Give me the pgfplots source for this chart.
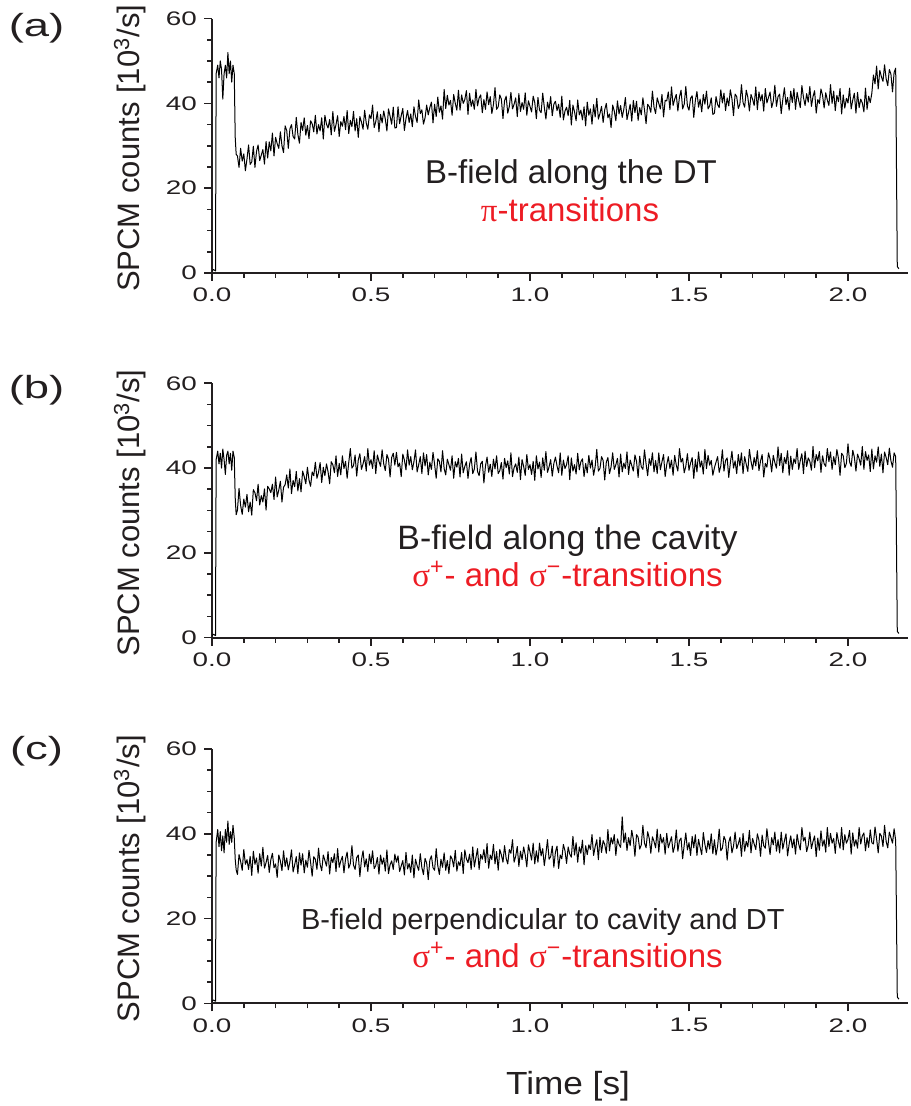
\documentclass[border=0pt]{standalone}
\usepackage{fontspec}
\setmainfont{Liberation Sans}
\newfontfamily\grk{Liberation Serif}
\newfontfamily\tickfont[FakeStretch=1.42]{Liberation Sans}
\newfontfamily\labfont[FakeStretch=1.1]{Liberation Sans}
\usepackage{pgfplots}
\usepackage{pgfplotstable}
\pgfplotsset{compat=1.18}
\definecolor{txt}{RGB}{35,31,32}
\definecolor{redtxt}{RGB}{237,28,36}

\pgfplotstableread{
t v
0 0.5
0.005 0.8
0.011 0.5
0.013 47
0.018 49
0.022 46
0.026 50
0.03 48
0.034 41
0.038 47
0.042 49
0.046 46
0.05 52
0.054 47
0.058 50
0.062 45
0.066 49
0.07 47
0.073 32
0.076 28
0.080 27.6
0.085 24.9
0.090 29.4
0.095 26.4
0.100 28.1
0.105 24.1
0.110 26.9
0.115 30.2
0.120 25.6
0.125 26.2
0.130 29.9
0.135 24.9
0.140 28.7
0.145 30.2
0.150 26.5
0.155 27.8
0.160 29.1
0.165 25.7
0.170 31.0
0.175 27.1
0.180 30.9
0.185 28.8
0.190 33.0
0.195 27.6
0.200 32.0
0.205 30.5
0.210 29.4
0.215 33.3
0.220 30.0
0.225 28.4
0.230 34.7
0.235 33.6
0.240 29.4
0.245 34.0
0.250 35.0
0.255 32.2
0.260 31.6
0.265 36.7
0.270 32.7
0.275 30.6
0.280 35.5
0.285 33.6
0.290 36.6
0.295 32.5
0.300 34.8
0.305 31.7
0.310 35.9
0.315 35.2
0.320 33.3
0.325 37.2
0.330 32.8
0.335 35.0
0.340 33.5
0.345 36.6
0.350 31.6
0.355 37.2
0.360 35.1
0.365 34.2
0.370 36.2
0.375 32.6
0.380 38.1
0.385 33.4
0.390 35.0
0.395 37.1
0.400 32.2
0.405 35.7
0.410 34.6
0.415 36.9
0.420 33.8
0.425 38.3
0.430 32.9
0.435 36.0
0.440 34.5
0.445 38.1
0.450 33.5
0.455 36.4
0.460 32.0
0.465 36.9
0.470 35.6
0.475 33.9
0.480 38.4
0.485 35.4
0.490 33.9
0.495 37.3
0.500 36.4
0.505 39.6
0.510 34.3
0.515 35.7
0.520 38.0
0.525 33.3
0.530 37.4
0.535 35.4
0.540 38.2
0.545 36.3
0.550 33.5
0.555 38.7
0.560 37.0
0.565 35.1
0.570 39.1
0.575 34.2
0.580 34.3
0.585 39.2
0.590 35.2
0.595 37.1
0.600 38.8
0.605 33.6
0.610 36.4
0.615 38.3
0.620 35.5
0.625 37.5
0.630 34.5
0.635 39.2
0.640 36.9
0.645 35.5
0.650 40.8
0.655 37.6
0.660 38.5
0.665 35.1
0.670 36.6
0.675 39.6
0.680 37.3
0.685 39.0
0.690 40.3
0.695 35.4
0.700 39.8
0.705 36.9
0.710 41.5
0.715 37.9
0.720 39.4
0.725 36.3
0.730 43.3
0.735 38.8
0.740 41.9
0.745 39.6
0.750 40.7
0.755 37.2
0.760 42.1
0.765 40.0
0.770 38.4
0.775 43.1
0.780 38.4
0.785 42.0
0.790 40.0
0.795 40.9
0.800 43.0
0.805 37.4
0.810 42.4
0.815 39.3
0.820 40.8
0.825 38.6
0.830 43.3
0.835 39.4
0.840 41.3
0.845 42.0
0.850 37.8
0.855 40.9
0.860 38.6
0.865 42.7
0.870 39.7
0.875 41.6
0.880 37.6
0.885 39.7
0.890 43.7
0.895 38.6
0.900 39.2
0.905 42.0
0.910 41.0
0.915 36.4
0.920 40.6
0.925 41.7
0.930 37.7
0.935 39.3
0.940 42.6
0.945 38.7
0.950 39.8
0.955 41.3
0.960 36.9
0.965 42.3
0.970 38.1
0.975 40.2
0.980 38.6
0.985 42.5
0.990 37.2
0.995 40.6
1.000 39.3
1.005 38.0
1.010 41.7
1.015 40.2
1.020 36.4
1.025 41.4
1.030 38.4
1.035 37.8
1.040 42.4
1.045 39.1
1.050 36.3
1.055 40.3
1.060 38.6
1.065 41.6
1.070 37.1
1.075 39.8
1.080 40.5
1.085 38.3
1.090 39.8
1.095 36.7
1.100 41.7
1.105 36.1
1.110 38.2
1.115 39.1
1.120 37.1
1.125 40.7
1.130 34.9
1.135 39.6
1.140 38.0
1.145 35.9
1.150 40.8
1.155 37.3
1.160 38.4
1.165 36.1
1.170 39.2
1.175 34.7
1.180 40.3
1.185 37.2
1.190 38.7
1.195 35.1
1.200 39.7
1.205 36.8
1.210 41.2
1.215 36.3
1.220 37.6
1.225 39.3
1.230 35.5
1.235 38.5
1.240 40.0
1.245 36.6
1.250 37.5
1.255 34.3
1.260 39.6
1.265 38.2
1.270 35.9
1.275 40.6
1.280 37.5
1.285 39.5
1.290 36.7
1.295 38.6
1.300 41.4
1.305 36.2
1.310 37.9
1.315 39.8
1.320 35.8
1.325 40.7
1.330 37.8
1.335 40.5
1.340 36.0
1.345 39.0
1.350 37.3
1.355 41.3
1.360 38.5
1.365 35.2
1.370 39.8
1.375 39.2
1.380 37.9
1.385 42.9
1.390 39.1
1.395 37.6
1.400 41.3
1.405 40.0
1.410 38.7
1.415 42.1
1.420 36.8
1.425 40.7
1.430 40.6
1.435 42.7
1.440 38.5
1.445 43.9
1.450 39.5
1.455 41.0
1.460 42.1
1.465 38.2
1.470 41.5
1.475 43.1
1.480 38.7
1.485 39.8
1.490 44.0
1.495 39.4
1.500 38.4
1.505 41.2
1.510 41.8
1.515 36.7
1.520 40.7
1.525 42.8
1.530 39.1
1.535 41.0
1.540 38.0
1.545 42.1
1.550 39.8
1.555 42.9
1.560 38.7
1.565 39.4
1.570 41.3
1.575 37.4
1.580 37.7
1.585 41.6
1.590 39.7
1.595 39.0
1.600 43.2
1.605 40.1
1.610 42.4
1.615 38.3
1.620 41.3
1.625 39.4
1.630 43.2
1.635 41.1
1.640 37.1
1.645 42.2
1.650 41.6
1.655 38.8
1.660 39.8
1.665 44.4
1.670 40.2
1.675 39.1
1.680 43.1
1.685 41.5
1.690 38.2
1.695 42.1
1.700 41.0
1.705 39.5
1.710 43.9
1.715 38.5
1.720 42.7
1.725 40.6
1.730 42.1
1.735 38.2
1.740 43.5
1.745 40.1
1.750 41.4
1.755 42.7
1.760 39.0
1.765 40.5
1.770 44.3
1.775 39.3
1.780 41.6
1.785 42.2
1.790 37.6
1.795 40.9
1.800 43.7
1.805 39.7
1.810 41.4
1.815 38.4
1.820 42.9
1.825 40.2
1.830 43.5
1.835 38.6
1.840 42.6
1.845 40.7
1.850 39.0
1.855 44.2
1.860 41.4
1.865 39.5
1.870 42.3
1.875 40.3
1.880 44.0
1.885 39.3
1.890 41.6
1.895 43.0
1.900 37.7
1.905 40.9
1.910 40.0
1.915 43.4
1.920 41.9
1.925 38.9
1.930 42.5
1.935 40.8
1.940 39.5
1.945 44.4
1.950 40.0
1.955 42.9
1.960 38.3
1.965 41.9
1.970 40.4
1.975 43.5
1.980 37.5
1.985 42.0
1.990 38.9
1.995 41.2
2.000 40.1
2.005 43.6
2.010 38.7
2.015 40.8
2.020 42.4
2.025 37.7
2.030 42.6
2.035 39.0
2.040 41.0
2.045 40.1
2.050 38.0
2.055 43.6
2.060 38.6
2.065 41.7
2.070 40.2
2.075 42.4
2.080 46.7
2.085 44.6
2.090 48.8
2.095 43.4
2.100 47.8
2.105 46.3
2.110 45.2
2.115 49.1
2.120 45.8
2.125 44.2
2.130 48.0
2.135 46.9
2.140 42.7
2.145 47.3
2.150 48.3
2.155 1.5
2.160 1.0
}\dataA

\pgfplotstableread{
t v
0 0.5
0.005 0.8
0.011 0.5
0.013 42
0.018 44
0.022 41
0.026 43.5
0.03 40
0.034 44.5
0.038 42
0.042 38.5
0.046 43
0.05 44
0.054 41
0.058 43.5
0.062 39.5
0.066 44
0.07 42.5
0.073 33
0.076 29
0.080 30.1
0.085 35.2
0.090 31.2
0.095 29.1
0.100 32.7
0.105 30.8
0.110 33.8
0.115 29.7
0.120 32.0
0.125 28.9
0.130 34.9
0.135 34.2
0.140 32.3
0.145 36.2
0.150 31.3
0.155 33.5
0.160 32.0
0.165 35.1
0.170 30.1
0.175 35.7
0.180 35.1
0.185 34.2
0.190 36.2
0.195 32.6
0.200 37.9
0.205 33.2
0.210 34.8
0.215 36.9
0.220 32.0
0.225 35.5
0.230 36.1
0.235 38.4
0.240 35.3
0.245 39.8
0.250 34.0
0.255 37.1
0.260 35.6
0.265 39.2
0.270 34.6
0.275 37.5
0.280 34.4
0.285 39.3
0.290 38.0
0.295 36.3
0.300 40.2
0.305 37.2
0.310 35.7
0.315 39.1
0.320 38.2
0.325 41.4
0.330 37.6
0.335 39.0
0.340 41.3
0.345 36.6
0.350 40.2
0.355 38.2
0.360 41.0
0.365 39.1
0.370 36.3
0.375 41.5
0.380 40.8
0.385 38.9
0.390 42.9
0.395 38.0
0.400 41.1
0.405 38.4
0.410 42.9
0.415 39.9
0.420 41.6
0.425 37.6
0.430 41.3
0.435 44.6
0.440 40.0
0.445 40.6
0.450 43.1
0.455 38.1
0.460 41.9
0.465 43.4
0.470 39.7
0.475 41.0
0.480 42.7
0.485 39.3
0.490 44.6
0.495 40.7
0.500 42.0
0.505 39.9
0.510 44.1
0.515 38.7
0.520 43.1
0.525 41.6
0.530 40.4
0.535 44.3
0.540 41.0
0.545 39.4
0.550 43.2
0.555 42.1
0.560 37.9
0.565 42.5
0.570 43.5
0.575 40.7
0.580 43.7
0.585 40.3
0.590 41.2
0.595 38.0
0.600 43.3
0.605 41.9
0.610 39.6
0.615 44.3
0.620 40.7
0.625 42.7
0.630 39.6
0.635 41.5
0.640 44.3
0.645 39.1
0.650 40.8
0.655 42.7
0.660 38.7
0.665 43.6
0.670 40.5
0.675 43.2
0.680 38.4
0.685 41.4
0.690 39.7
0.695 43.7
0.700 40.9
0.705 37.6
0.710 42.2
0.715 41.6
0.720 39.1
0.725 44.1
0.730 39.9
0.735 38.4
0.740 42.1
0.745 40.8
0.750 39.5
0.755 42.9
0.760 37.6
0.765 41.5
0.770 40.2
0.775 42.3
0.780 37.9
0.785 43.3
0.790 38.9
0.795 40.4
0.800 41.5
0.805 37.6
0.810 40.9
0.815 42.5
0.820 38.7
0.825 39.8
0.830 43.8
0.835 39.2
0.840 38.2
0.845 41.0
0.850 41.6
0.855 36.5
0.860 40.5
0.865 42.6
0.870 39.0
0.875 40.9
0.880 38.0
0.885 42.1
0.890 39.8
0.895 42.9
0.900 38.7
0.905 39.4
0.910 41.3
0.915 37.4
0.920 42.3
0.925 40.1
0.930 41.7
0.935 38.6
0.940 43.6
0.945 38.0
0.950 40.1
0.955 41.0
0.960 39.0
0.965 42.6
0.970 37.3
0.975 42.0
0.980 40.4
0.985 38.3
0.990 43.2
0.995 39.7
1.000 40.8
1.005 38.5
1.010 41.6
1.015 37.1
1.020 42.9
1.025 39.8
1.030 41.4
1.035 37.8
1.040 42.4
1.045 39.5
1.050 43.9
1.055 39.0
1.060 40.3
1.065 42.0
1.070 38.1
1.075 41.1
1.080 42.6
1.085 40.5
1.090 38.9
1.095 43.6
1.100 38.3
1.105 41.9
1.110 39.9
1.115 40.8
1.120 42.9
1.125 37.3
1.130 42.4
1.135 39.3
1.140 40.8
1.145 38.6
1.150 43.5
1.155 39.6
1.160 41.5
1.165 42.2
1.170 38.0
1.175 41.1
1.180 38.9
1.185 43.0
1.190 40.0
1.195 41.9
1.200 38.3
1.205 40.4
1.210 44.4
1.215 39.3
1.220 39.9
1.225 42.7
1.230 41.8
1.235 37.2
1.240 41.4
1.245 42.5
1.250 38.7
1.255 40.3
1.260 43.6
1.265 39.7
1.270 40.8
1.275 42.3
1.280 37.9
1.285 43.3
1.290 39.1
1.295 41.2
1.300 39.9
1.305 43.8
1.310 38.5
1.315 41.9
1.320 40.6
1.325 39.3
1.330 43.1
1.335 41.6
1.340 37.8
1.345 42.8
1.350 40.3
1.355 39.7
1.360 44.3
1.365 41.0
1.370 38.2
1.375 42.2
1.380 40.6
1.385 43.6
1.390 39.1
1.395 41.8
1.400 38.7
1.405 43.6
1.410 39.6
1.415 41.5
1.420 43.2
1.425 38.0
1.430 40.8
1.435 42.7
1.440 39.9
1.445 41.9
1.450 38.3
1.455 43.0
1.460 40.7
1.465 39.3
1.470 44.6
1.475 41.4
1.480 42.3
1.485 38.9
1.490 40.4
1.495 43.4
1.500 39.5
1.505 41.2
1.510 42.5
1.515 37.6
1.520 42.0
1.525 39.1
1.530 43.8
1.535 40.2
1.540 41.7
1.545 38.6
1.550 44.4
1.555 39.9
1.560 43.0
1.565 40.7
1.570 41.8
1.575 38.3
1.580 40.1
1.585 41.4
1.590 42.7
1.595 39.0
1.600 40.5
1.605 44.3
1.610 39.3
1.615 41.8
1.620 42.4
1.625 37.8
1.630 41.2
1.635 44.0
1.640 40.0
1.645 41.7
1.650 38.7
1.655 43.2
1.660 40.5
1.665 43.6
1.670 38.7
1.675 42.7
1.680 40.9
1.685 39.2
1.690 44.4
1.695 41.6
1.700 39.7
1.705 42.5
1.710 40.5
1.715 44.1
1.720 39.4
1.725 41.7
1.730 43.2
1.735 37.9
1.740 41.1
1.745 40.2
1.750 43.6
1.755 42.1
1.760 39.1
1.765 43.0
1.770 41.3
1.775 40.0
1.780 45.0
1.785 40.6
1.790 43.5
1.795 38.9
1.800 42.5
1.805 41.0
1.810 44.1
1.815 38.3
1.820 42.8
1.825 39.7
1.830 42.2
1.835 41.1
1.840 44.6
1.845 39.7
1.850 41.8
1.855 43.4
1.860 38.7
1.865 44.0
1.870 40.4
1.875 42.4
1.880 41.6
1.885 39.5
1.890 45.1
1.895 40.1
1.900 43.2
1.905 41.7
1.910 43.9
1.915 39.0
1.920 42.9
1.925 41.0
1.930 40.4
1.935 44.6
1.940 41.5
1.945 43.8
1.950 39.7
1.955 42.7
1.960 40.8
1.965 44.4
1.970 42.3
1.975 38.3
1.980 43.5
1.985 42.9
1.990 40.1
1.995 41.1
2.000 45.7
2.005 41.5
2.010 40.4
2.015 44.2
2.020 42.6
2.025 39.3
2.030 43.3
2.035 42.2
2.040 40.7
2.045 45.1
2.050 39.7
2.055 43.9
2.060 41.8
2.065 43.1
2.070 39.2
2.075 44.5
2.080 39.8
2.085 42.9
2.090 41.4
2.095 45.0
2.100 40.4
2.105 43.3
2.110 38.9
2.115 43.8
2.120 42.5
2.125 40.8
2.130 44.7
2.135 41.7
2.140 40.2
2.145 43.6
2.150 42.7
2.155 1.5
2.160 1.0
}\dataB

\pgfplotstableread{
t v
0 0.5
0.005 0.8
0.011 0.5
0.013 38
0.018 41
0.022 37
0.026 40.5
0.03 36
0.034 39.5
0.038 35.5
0.042 41
0.046 38
0.05 43
0.054 37.5
0.058 40.5
0.062 38
0.066 42
0.07 39
0.073 34
0.076 31.5
0.080 30.4
0.085 35.1
0.090 33.5
0.095 31.4
0.100 36.3
0.105 32.8
0.110 33.9
0.115 31.6
0.120 34.7
0.125 30.2
0.130 35.9
0.135 32.8
0.140 34.3
0.145 30.7
0.150 35.3
0.155 32.4
0.160 36.8
0.165 31.9
0.170 33.2
0.175 34.9
0.180 30.9
0.185 33.9
0.190 35.4
0.195 32.0
0.200 32.9
0.205 29.7
0.210 35.0
0.215 33.6
0.220 31.3
0.225 36.0
0.230 32.3
0.235 34.3
0.240 31.5
0.245 33.4
0.250 36.2
0.255 31.0
0.260 32.7
0.265 34.6
0.270 30.6
0.275 35.5
0.280 32.6
0.285 35.3
0.290 30.8
0.295 33.8
0.300 32.1
0.305 36.1
0.310 33.3
0.315 30.0
0.320 34.6
0.325 34.0
0.330 31.6
0.335 36.6
0.340 32.8
0.345 31.3
0.350 35.0
0.355 33.7
0.360 32.4
0.365 35.8
0.370 30.5
0.375 34.4
0.380 33.2
0.385 35.3
0.390 31.1
0.395 36.5
0.400 32.1
0.405 33.6
0.410 34.7
0.415 30.8
0.420 34.1
0.425 35.7
0.430 31.9
0.435 33.0
0.440 37.2
0.445 32.6
0.450 31.6
0.455 34.4
0.460 35.0
0.465 29.9
0.470 33.9
0.475 36.0
0.480 32.2
0.485 34.1
0.490 31.1
0.495 35.2
0.500 32.9
0.505 36.0
0.510 31.8
0.515 32.5
0.520 34.4
0.525 30.5
0.530 35.0
0.535 32.8
0.540 34.3
0.545 31.2
0.550 36.2
0.555 30.6
0.560 32.7
0.565 33.6
0.570 31.6
0.575 35.2
0.580 33.3
0.585 34.8
0.590 31.1
0.595 32.4
0.600 33.7
0.605 30.3
0.610 35.6
0.615 31.7
0.620 33.0
0.625 30.9
0.630 35.0
0.635 29.6
0.640 34.0
0.645 32.5
0.650 31.4
0.655 35.3
0.660 32.0
0.665 30.4
0.670 34.2
0.675 33.1
0.680 29.2
0.685 33.8
0.690 34.8
0.695 32.0
0.700 31.4
0.705 36.5
0.710 32.5
0.715 30.4
0.720 34.0
0.725 32.1
0.730 35.5
0.735 31.4
0.740 33.7
0.745 30.6
0.750 34.8
0.755 34.1
0.760 32.2
0.765 36.1
0.770 31.2
0.775 33.4
0.780 32.5
0.785 35.6
0.790 30.6
0.795 36.2
0.800 34.1
0.805 33.2
0.810 35.2
0.815 31.6
0.820 36.9
0.825 32.2
0.830 34.4
0.835 36.5
0.840 31.6
0.845 35.1
0.850 34.0
0.855 36.3
0.860 33.2
0.865 37.7
0.870 31.9
0.875 35.0
0.880 33.9
0.885 37.5
0.890 32.9
0.895 35.8
0.900 31.4
0.905 36.3
0.910 35.0
0.915 33.3
0.920 37.2
0.925 34.2
0.930 32.9
0.935 36.3
0.940 35.4
0.945 38.6
0.950 33.3
0.955 34.7
0.960 37.0
0.965 32.3
0.970 35.9
0.975 33.9
0.980 36.9
0.985 35.0
0.990 32.2
0.995 37.4
1.000 35.7
1.005 33.8
1.010 37.8
1.015 32.9
1.020 36.0
1.025 33.3
1.030 37.8
1.035 34.8
1.040 36.5
1.045 32.5
1.050 35.3
1.055 38.6
1.060 34.0
1.065 34.6
1.070 37.1
1.075 32.1
1.080 35.7
1.085 37.1
1.090 31.8
1.095 35.0
1.100 34.1
1.105 37.5
1.110 36.0
1.115 33.0
1.120 36.9
1.125 35.2
1.130 34.5
1.135 39.4
1.140 35.0
1.145 37.9
1.150 33.3
1.155 36.9
1.160 35.4
1.165 38.5
1.170 32.7
1.175 37.2
1.180 35.1
1.185 37.4
1.190 36.3
1.195 39.8
1.200 34.9
1.205 37.0
1.210 38.6
1.215 33.9
1.220 39.2
1.225 35.6
1.230 38.4
1.235 37.5
1.240 35.4
1.245 41.0
1.250 36.0
1.255 39.1
1.260 37.6
1.265 39.8
1.270 34.9
1.275 38.8
1.280 37.5
1.285 36.8
1.290 44.0
1.295 37.9
1.300 40.2
1.305 36.1
1.310 39.1
1.315 37.2
1.320 40.8
1.325 38.7
1.330 34.7
1.335 39.8
1.340 39.2
1.345 36.4
1.350 37.4
1.355 42.0
1.360 37.8
1.365 36.7
1.370 40.5
1.375 38.9
1.380 35.4
1.385 39.3
1.390 38.2
1.395 36.7
1.400 41.1
1.405 35.7
1.410 39.9
1.415 37.8
1.420 39.1
1.425 35.2
1.430 40.1
1.435 36.7
1.440 38.0
1.445 39.3
1.450 35.6
1.455 37.1
1.460 40.9
1.465 35.9
1.470 38.4
1.475 39.0
1.480 34.1
1.485 37.4
1.490 40.2
1.495 36.2
1.500 37.9
1.505 34.9
1.510 39.4
1.515 36.7
1.520 39.8
1.525 34.9
1.530 38.7
1.535 36.8
1.540 35.1
1.545 40.3
1.550 37.5
1.555 35.6
1.560 38.4
1.565 36.4
1.570 40.0
1.575 35.3
1.580 38.6
1.585 35.0
1.590 37.1
1.595 41.1
1.600 36.0
1.605 36.6
1.610 39.4
1.615 38.4
1.620 33.8
1.625 38.0
1.630 39.3
1.635 35.5
1.640 37.1
1.645 40.4
1.650 36.5
1.655 37.6
1.660 39.1
1.665 34.7
1.670 40.1
1.675 35.9
1.680 38.2
1.685 36.9
1.690 40.8
1.695 35.5
1.700 38.9
1.705 37.6
1.710 36.3
1.715 40.0
1.720 38.5
1.725 34.7
1.730 39.7
1.735 37.2
1.740 36.6
1.745 41.2
1.750 37.9
1.755 35.1
1.760 39.1
1.765 37.4
1.770 40.4
1.775 35.9
1.780 38.6
1.785 35.5
1.790 40.4
1.795 36.4
1.800 38.3
1.805 40.0
1.810 34.8
1.815 37.6
1.820 39.5
1.825 36.7
1.830 38.8
1.835 35.2
1.840 39.9
1.845 37.6
1.850 36.2
1.855 41.5
1.860 38.3
1.865 39.2
1.870 35.8
1.875 37.3
1.880 40.4
1.885 36.5
1.890 38.2
1.895 39.5
1.900 34.6
1.905 39.0
1.910 36.1
1.915 40.7
1.920 37.1
1.925 38.6
1.930 35.7
1.935 41.5
1.940 37.0
1.945 40.1
1.950 37.8
1.955 38.9
1.960 35.4
1.965 40.3
1.970 38.2
1.975 36.6
1.980 41.5
1.985 36.2
1.990 39.8
1.995 37.8
2.000 38.7
2.005 40.8
2.010 35.2
2.015 40.2
2.020 37.1
2.025 38.6
2.030 36.6
2.035 41.5
2.040 37.6
2.045 39.5
2.050 40.2
2.055 36.0
2.060 39.1
2.065 36.8
2.070 40.9
2.075 37.9
2.080 37.6
2.085 41.6
2.090 38.8
2.095 35.5
2.100 40.1
2.105 39.5
2.110 37.0
2.115 42.0
2.120 38.2
2.125 36.7
2.130 40.4
2.135 39.1
2.140 37.8
2.145 41.2
2.150 38.4
2.155 1.5
2.160 1.0
}\dataC

\pgfplotsset{
  panel/.style={
    scale only axis, width=348.2pt, height=127.2pt,
    anchor=south west,
    xmin=0, xmax=2.19, ymin=0, ymax=60,
    enlargelimits=false,
    axis x line=bottom, axis y line=left,
    axis line style={-, line width=1pt, color=txt},
    tick align=outside,
    major tick length=4pt, minor tick length=2.5pt,
    tick style={line width=0.8pt, color=txt},
    xtick={0,0.5,1,1.5,2}, minor x tick num=4,
    ytick={0,20,40,60}, minor y tick num=3,
    xticklabel style={/pgf/number format/.cd, fixed, fixed zerofill, precision=1},
    /pgf/number format/assume math mode=true,
    tick label style={font=\tickfont\fontsize{9.8}{11}\selectfont, color=txt},
    ylabel={SPCM counts [10\textsuperscript{3}/s]},
    every axis y label/.style={at={(axis description cs:-0.1177,0.49)}, rotate=90, anchor=center, font=\fontsize{15.5}{18}\selectfont, color=txt},
  },
  trace/.style={black, line width=0.5pt, no marks, line join=round},
}

\begin{document}
\begin{tikzpicture}
\useasboundingbox (0,0) rectangle (455pt,553pt);

\begin{axis}[panel, at={(106pt,416.5pt)}]
\addplot[trace] table[x=t, y=v] {\dataA};
\end{axis}

\begin{axis}[panel, at={(106pt,234.15pt)}]
\addplot[trace] table[x=t, y=v] {\dataB};
\end{axis}

\begin{axis}[panel, at={(106pt,51.3pt)}]
\addplot[trace] table[x=t, y=v] {\dataC};
\end{axis}

\node[font=\tickfont\fontsize{16}{19}\selectfont, color=txt] at (18.3pt,539pt) {(a)};
\node[font=\tickfont\fontsize{16}{19}\selectfont, color=txt] at (18.3pt,358pt) {(b)};
\node[font=\tickfont\fontsize{16}{19}\selectfont, color=txt] at (18.3pt,177.5pt) {(c)};

\node[anchor=base, font=\fontsize{16.5}{19}\selectfont, color=txt] at (285.5pt,461pt) {B-field along the DT};
\node[anchor=base, font=\fontsize{16.5}{19}\selectfont, color=redtxt] at (285pt,442pt) {{\grk π}-transitions};

\node[anchor=base, font=\fontsize{16.9}{19}\selectfont, color=txt] at (283.75pt,278pt) {B-field along the cavity};
\node[anchor=base, font=\fontsize{16.5}{19}\selectfont, color=redtxt] at (283.75pt,259.5pt) {{\grk σ}\textsuperscript{+}- and {\grk σ}\textsuperscript{−}-transitions};

\node[anchor=base east, inner xsep=0pt, font=\fontsize{14.5}{17}\selectfont, color=txt] at (392.5pt,88pt) {B-field perpendicular to cavity and DT};
\node[anchor=base, font=\fontsize{16.5}{19}\selectfont, color=redtxt] at (283.75pt,69pt) {{\grk σ}\textsuperscript{+}- and {\grk σ}\textsuperscript{−}-transitions};

\node[anchor=base, font=\labfont\fontsize{16}{18}\selectfont, color=txt] at (284pt,5.5pt) {Time [s]};
\end{tikzpicture}
\end{document}
